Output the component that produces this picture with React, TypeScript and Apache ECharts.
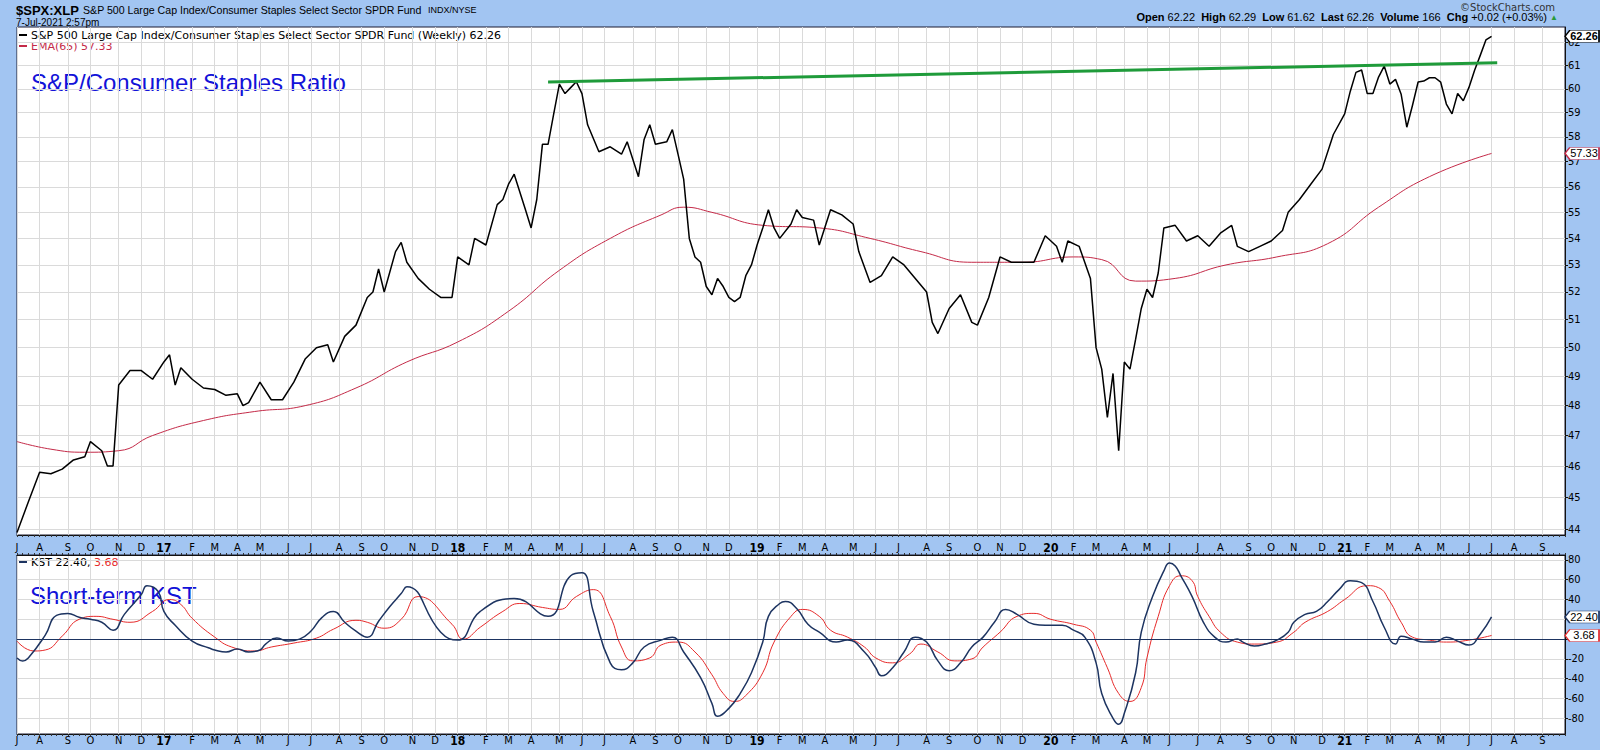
import React, { useEffect, useRef } from "react";
import * as echarts from "echarts";

// ---------- axis / categories ----------
const WEEK_START_UTC = Date.UTC(2016, 6, 4); // Monday, 4 Jul 2016
const WEEK_COUNT = 275; // weekly slots incl. future space to Sep 2021
const MONTH_LETTERS = ["J", "F", "M", "A", "M", "J", "J", "A", "S", "O", "N", "D"];
const priceTicks = [44, 45, 46, 47, 48, 49, 50, 51, 52, 53, 54, 55, 56, 57, 58, 59, 60, 61, 62];
const kstTicks = [-80, -60, -40, -20, 0, 20, 40, 60, 80];
const kstTickLabels = [-80, -60, -40, -20, 40, 60, 80]; // 0 and 20 sit under the value tags
const priceRange = [43.82, 62.67];
const kstRange = [-95.9, 85];

// ---------- data (week index, value) ----------
const pricePoints = [
  [0,43.9],[2,44.85],[4,45.8],[6,45.75],[8,45.9],[10,46.2],[12,46.3],[13,46.8],[15,46.5],[16,46.0],[17,46.0],[18,48.7],[20,49.2],[22,49.2],[24,48.9],[26,49.5],[27,49.75],[28,48.7],[29,49.3],[31,48.9],[33,48.6],[35,48.55],[37,48.35],[39,48.4],[40,48.0],[41,48.1],[43,48.8],[45,48.2],[47,48.2],[49,48.8],[51,49.6],[53,50.0],[55,50.1],[56,49.5],[58,50.4],[60,50.8],[62,51.8],[63,52.0],[64,52.85],[65,52.0],[67,53.5],[68,53.85],[69,53.1],[71,52.5],[73,52.1],[75,51.8],[77,51.8],[78,53.3],[80,53.0],[81,54.0],[83,53.75],[85,55.3],[86,55.5],[87,56.1],[88,56.5],[90,55.1],[91,54.4],[92,55.5],[93,57.7],[94,57.7],[95,58.95],[96,60.2],[97,59.8],[98,60.05],[99,60.3],[100,59.8],[101,58.5],[103,57.4],[105,57.6],[107,57.3],[108,57.8],[110,56.4],[111,57.9],[112,58.5],[113,57.7],[115,57.8],[116,58.3],[117,57.3],[118,56.3],[119,54.0],[120,53.3],[121,53.1],[122,52.2],[123,51.9],[124,52.5],[125,52.2],[126,51.8],[127,51.65],[128,51.8],[129,52.6],[130,53.0],[131,53.75],[132,54.4],[133,55.1],[134,54.4],[135,54.0],[137,54.55],[138,55.1],[139,54.8],[141,54.7],[142,53.75],[144,55.1],[146,54.9],[148,54.55],[149,53.5],[151,52.35],[153,52.6],[155,53.3],[157,53.0],[159,52.5],[161,52.0],[162,50.9],[163,50.5],[165,51.4],[167,51.9],[169,50.9],[170,50.8],[172,51.8],[174,53.3],[176,53.1],[178,53.1],[180,53.1],[182,54.1],[184,53.7],[185,53.1],[186,53.9],[188,53.7],[190,52.5],[191,50.0],[192,49.25],[193,47.6],[194,49.1],[195,46.5],[196,49.5],[197,49.25],[198,50.3],[199,51.4],[200,52.1],[201,51.8],[202,52.7],[203,54.4],[205,54.5],[207,53.9],[209,54.1],[211,53.7],[213,54.2],[215,54.5],[216,53.7],[218,53.5],[220,53.7],[222,53.9],[224,54.3],[225,55.0],[227,55.5],[229,56.1],[231,56.7],[233,58.1],[235,58.95],[236,59.9],[237,60.7],[238,60.8],[239,59.8],[240,59.8],[241,60.5],[242,60.97],[243,60.2],[244,60.4],[245,59.77],[246,58.4],[247,59.3],[248,60.29],[249,60.33],[250,60.47],[251,60.47],[252,60.28],[253,59.36],[254,58.95],[255,59.8],[256,59.5],[257,60.06],[258,60.79],[259,61.43],[260,62.1],[261,62.26]
];
const emaPoints = [
  [0,46.8],[6,46.55],[12,46.45],[18,46.5],[24,47.0],[33,47.5],[42,47.8],[51,48.0],[60,48.6],[69,49.5],[78,50.2],[87,51.3],[96,52.8],[105,54.0],[114,54.9],[118,55.2],[123,55.0],[132,54.5],[142,54.4],[151,54.0],[160,53.5],[169,53.1],[178,53.1],[187,53.3],[192,53.2],[198,52.4],[205,52.5],[214,53.0],[223,53.3],[232,53.8],[241,55.2],[250,56.4],[261,57.33]
];
const kstPoints = [
  [0,-19],[1,-22],[2,-19],[5,4],[7,24],[9,26],[11,22],[13,20],[15,17],[17,9],[19,25],[22,45],[23,54],[25,48],[26,28],[28,14],[31,-2],[34,-9],[35,-11],[37,-13],[39,-10],[41,-13],[43,-11],[44,-5],[46,1],[48,-2],[50,0],[52,8],[54,22],[56,28],[58,17],[60,8],[62,2],[64,18],[66,33],[68,46],[69,53],[75,7],[78,-1],[82,28],[88,41],[94,23],[98,64],[100,67],[102,28],[105,-24],[107,-31],[109,-24],[111,-8],[114,-1],[116,2],[118,-13],[121,-39],[123,-65],[124,-78],[126,-70],[128,-55],[130,-34],[132,-3],[133,23],[135,36],[136,38],[138,31],[140,15],[142,7],[145,-3],[147,-1],[150,-13],[152,-29],[153,-37],[155,-29],[157,-13],[159,2],[161,-3],[163,-22],[165,-32],[167,-24],[169,-8],[171,2],[173,17],[175,30],[177,25],[180,15],[182,14],[185,14],[187,9],[189,2],[191,-24],[192,-55],[194,-80],[195,-86],[196,-75],[198,-34],[199,7],[201,43],[203,69],[204,77],[205,74],[206,64],[208,43],[210,17],[212,2],[214,-3],[216,0],[217,-3],[219,-7],[221,-5],[223,-1],[225,7],[226,17],[228,25],[230,28],[232,38],[234,50],[236,59],[238,57],[240,38],[242,12],[244,-5],[245,3],[247,0],[249,-3],[251,-3],[253,2],[255,-2],[257,-6],[259,5],[261,22.4]
];
const signalPoints = [
  [0,-2],[3,-12],[5,-11],[8,3],[11,20],[14,23],[17,20],[20,17],[24,28],[27,40],[29,35],[31,21],[35,2],[38,-8],[42,-12],[45,-8],[49,-4],[53,1],[56,10],[60,19],[62,17],[65,11],[68,20],[71,43],[77,15],[79,0],[82,12],[86,28],[89,36],[93,32],[96,30],[99,43],[102,50],[105,23],[107,-8],[109,-22],[112,-19],[114,-6],[117,-3],[120,-13],[123,-36],[125,-55],[127,-63],[129,-57],[132,-34],[134,-3],[137,23],[139,30],[142,23],[144,9],[147,2],[150,-8],[152,-19],[155,-24],[158,-15],[160,-5],[163,-13],[166,-22],[169,-20],[171,-8],[174,7],[177,23],[180,26],[183,20],[187,15],[190,9],[191,-3],[193,-29],[195,-55],[197,-63],[199,-49],[200,-19],[202,23],[204,54],[206,64],[208,59],[209,43],[211,23],[213,7],[216,-3],[219,-5],[223,-3],[226,7],[228,17],[232,28],[235,40],[239,54],[241,52],[243,38],[245,17],[247,2],[250,-1],[253,-3],[257,-1],[261,3.68]
];
const trendWeeks = [94, 262];
const trendValues = [60.29, 61.11];

const lastPrice = 62.26;
const lastEma = 57.33;
const lastKst = 22.4;
const lastSignal = 3.68;

// ---------- texts ----------
const tickerText = "$SPX:XLP";
const nameText = "S&P 500 Large Cap Index/Consumer Staples Select Sector SPDR Fund";
const exchangeText = "INDX/NYSE";
const dateText = "7-Jul-2021 2:57pm";
const siteText = "\u00A9StockCharts.com";
const quoteText =
  "{b|Open} 62.22  {b|High} 62.29  {b|Low} 61.62  {b|Last} 62.26  {b|Volume} 166  {b|Chg} +0.02 (+0.03%) {g|▲}";
const priceLegend = "S&P 500 Large Cap Index/Consumer Staples Select Sector SPDR Fund (Weekly) 62.26";
const emaLegend = "EMA(65) 57.33";
const kstLegend = "KST 22.40, ";
const kstSignalLegend = "3.68";
const priceTitle = "S&P/Consumer Staples Ratio";
const kstTitle = "Short-term KST";

const NARROW = "'Liberation Sans Narrow', 'DejaVu Sans Condensed', 'Liberation Sans', Arial, sans-serif";
const ARIAL = "'Liberation Sans', Arial, sans-serif";
const VERD = "'DejaVu Sans', Verdana, sans-serif";

const BG = "#a2c5f2";
const NAVY = "#1d3461";
const EMA_RED = "#c42a48";
const SIG_RED = "#e62a2a";
const GRID_GRAY = "#dadada";
const TITLE_BLUE = "#1212d8";

export default function App() {
  const ref = useRef<HTMLDivElement>(null);

  useEffect(() => {
    document.body.style.margin = "0";
    if (!ref.current) return;
    const chart = echarts.init(ref.current, null, { renderer: "svg" });

    const weekDates = Array.from({ length: WEEK_COUNT }, (_, i) => new Date(WEEK_START_UTC + i * 7 * 86400000));
    const categories = weekDates.map((d) => d.toISOString().slice(0, 10));
    const isMonthStart = weekDates.map((d, i) => i === 0 || d.getUTCMonth() !== weekDates[i - 1].getUTCMonth());
    const monthLabel = weekDates.map((d, i) => {
      if (!isMonthStart[i]) return "";
      const m = d.getUTCMonth();
      if (m === 0 && i > 0) return "{y|" + String(d.getUTCFullYear() % 100).padStart(2, "0") + "}";
      return MONTH_LETTERS[m];
    });
    const showLabel = (i: number) => isMonthStart[i] && i < WEEK_COUNT - 1;

    const ln = (v: number) => Math.log(v);
    const lnPairs = (pts: number[][]) => pts.map(([w, v]) => [w, ln(v)]);

    const tag = (yVal: number, text: string, border: string, bold: boolean) => ({
      coord: [WEEK_COUNT - 1, yVal],
      symbol: "path://M0,6 L5,0 L36,0 L36,12 L5,12 Z",
      symbolSize: [34, 12],
      symbolOffset: [17, 0],
      symbolKeepAspect: false,
      itemStyle: { color: "#fff", borderColor: border, borderWidth: 1 },
      label: {
        show: true,
        position: "inside",
        formatter: text,
        color: "#000",
        fontSize: 11,
        fontFamily: ARIAL,
        fontWeight: bold ? "bold" : "normal",
        offset: [2, 0],
      },
    });

    const xLabelCommon = {
      interval: (i: number) => showLabel(i),
      formatter: (_v: string, i: number) => monthLabel[i],
      color: "#000",
      fontSize: 11,
      fontFamily: NARROW,
      rich: { y: { fontWeight: "bold", fontSize: 12, fontFamily: NARROW, color: "#000" } },
    };
    const xCommon = {
      type: "category",
      data: categories,
      boundaryGap: false,
      axisLine: { show: true, onZero: false, lineStyle: { color: "#111" } },
      axisTick: { show: true, interval: 0, length: 2, lineStyle: { color: "#333" } },
      splitLine: { show: true, interval: (i: number) => isMonthStart[i], lineStyle: { color: GRID_GRAY, width: 1 } },
    };

    const txt = (x: number, y: number, text: string, fontSize: number, fontFamily: string, fill: string, extra: any = {}) => ({
      type: "text",
      x,
      y,
      style: { text, fontSize, fontFamily, fill, verticalAlign: "middle", ...extra },
    });

    const option: any = {
      animation: false,
      backgroundColor: BG,
      grid: [
        { left: 17, right: 35, top: 27, height: 508, show: true, backgroundColor: "#fff", borderColor: "#1a1a33", borderWidth: 1 },
        { left: 17, right: 35, top: 555, height: 179, show: true, backgroundColor: "#fff", borderColor: "#1a1a33", borderWidth: 1 },
      ],
      xAxis: [
        { ...xCommon, gridIndex: 0, position: "bottom", axisLabel: { ...xLabelCommon, margin: 7 } },
        { ...xCommon, gridIndex: 1, position: "bottom", axisLabel: { ...xLabelCommon, margin: 1 } },
        { ...xCommon, gridIndex: 1, position: "top", axisLabel: { show: false }, splitLine: { show: false } },
      ],
      yAxis: [
        {
          type: "value",
          gridIndex: 0,
          position: "right",
          min: ln(priceRange[0]),
          max: ln(priceRange[1]),
          axisLine: { show: true, lineStyle: { color: "#111" } },
          axisTick: { show: true, length: 3, customValues: priceTicks.map(ln), lineStyle: { color: "#111" } },
          axisLabel: {
            customValues: priceTicks.map(ln),
            formatter: (v: number) => String(Math.round(Math.exp(v))),
            color: "#000",
            fontSize: 11,
            fontFamily: NARROW,
            margin: 3,
          },
          splitLine: { show: true, lineStyle: { color: GRID_GRAY, width: 1 } },
        },
        {
          type: "value",
          gridIndex: 1,
          position: "right",
          min: kstRange[0],
          max: kstRange[1],
          axisLine: { show: true, lineStyle: { color: "#111" } },
          axisTick: { show: true, length: 3, customValues: kstTicks, lineStyle: { color: "#111" } },
          axisLabel: { customValues: kstTickLabels, color: "#000", fontSize: 11, fontFamily: NARROW, margin: 3 },
          splitLine: { show: true, lineStyle: { color: GRID_GRAY, width: 1 } },
        },
      ],
      series: [
        {
          name: "EMA",
          type: "line",
          xAxisIndex: 0,
          yAxisIndex: 0,
          data: lnPairs(emaPoints),
          smooth: true,
          showSymbol: false,
          lineStyle: { color: EMA_RED, width: 1 },
          markPoint: { silent: true, data: [tag(ln(lastEma), lastEma.toFixed(2), EMA_RED, false)] },
          z: 3,
        },
        {
          name: "Ratio",
          type: "line",
          xAxisIndex: 0,
          yAxisIndex: 0,
          data: lnPairs(pricePoints),
          showSymbol: false,
          lineStyle: { color: "#000", width: 1.5 },
          markPoint: { silent: true, data: [tag(ln(lastPrice), lastPrice.toFixed(2), "#000", true)] },
          z: 4,
        },
        {
          name: "Trend",
          type: "line",
          xAxisIndex: 0,
          yAxisIndex: 0,
          data: trendWeeks.map((w, i) => [w, ln(trendValues[i])]),
          showSymbol: false,
          lineStyle: { color: "#1f9b3a", width: 3 },
          z: 5,
        },
        {
          name: "Signal",
          type: "line",
          xAxisIndex: 1,
          yAxisIndex: 1,
          data: signalPoints,
          smooth: true,
          showSymbol: false,
          lineStyle: { color: SIG_RED, width: 1 },
          markPoint: { silent: true, data: [tag(lastSignal, lastSignal.toFixed(2), SIG_RED, false)] },
          markLine: {
            silent: true,
            symbol: "none",
            label: { show: false },
            lineStyle: { color: NAVY, width: 1, type: "solid" },
            data: [{ yAxis: 0 }],
          },
          z: 3,
        },
        {
          name: "KST",
          type: "line",
          xAxisIndex: 1,
          yAxisIndex: 1,
          data: kstPoints,
          smooth: true,
          showSymbol: false,
          lineStyle: { color: NAVY, width: 1.5 },
          markPoint: { silent: true, data: [tag(lastKst, lastKst.toFixed(2), NAVY, false)] },
          z: 4,
        },
      ],
      graphic: [
        txt(16, 10, tickerText, 13, ARIAL, "#000", { fontWeight: "bold" }),
        txt(83, 10, nameText, 10.6, ARIAL, "#000"),
        txt(428, 10, exchangeText, 9, ARIAL, "#000"),
        txt(16, 22, dateText, 10, ARIAL, "#000"),
        txt(1555, 7, siteText, 10, VERD, "#333", { align: "right" }),
        txt(1558, 17, quoteText, 11, ARIAL, "#000", {
          align: "right",
          rich: {
            b: { fontWeight: "bold", fontSize: 11, fontFamily: ARIAL, fill: "#000" },
            g: { fontSize: 8, fill: "#2a9a3a" },
          },
        }),
        { type: "rect", shape: { x: 19, y: 34, width: 8, height: 2 }, style: { fill: "#000" } },
        txt(31, 35, priceLegend, 11, VERD, "#000"),
        { type: "rect", shape: { x: 19, y: 45, width: 8, height: 2 }, style: { fill: EMA_RED } },
        txt(31, 46, emaLegend, 11, VERD, EMA_RED),
        txt(31, 82, priceTitle, 24, ARIAL, TITLE_BLUE),
        { type: "rect", shape: { x: 19, y: 561, width: 8, height: 2 }, style: { fill: NAVY } },
        txt(31, 562, kstLegend + "{r|" + kstSignalLegend + "}", 11, VERD, "#000", {
          rich: { r: { fill: SIG_RED, fontSize: 11, fontFamily: VERD } },
        }),
        txt(30, 595, kstTitle, 24, ARIAL, TITLE_BLUE),
      ],
    };

    chart.setOption(option);
    return () => chart.dispose();
  }, []);

  return <div ref={ref} style={{ width: 1600, height: 750, position: "absolute", left: 0, top: 0 }} />;
}
